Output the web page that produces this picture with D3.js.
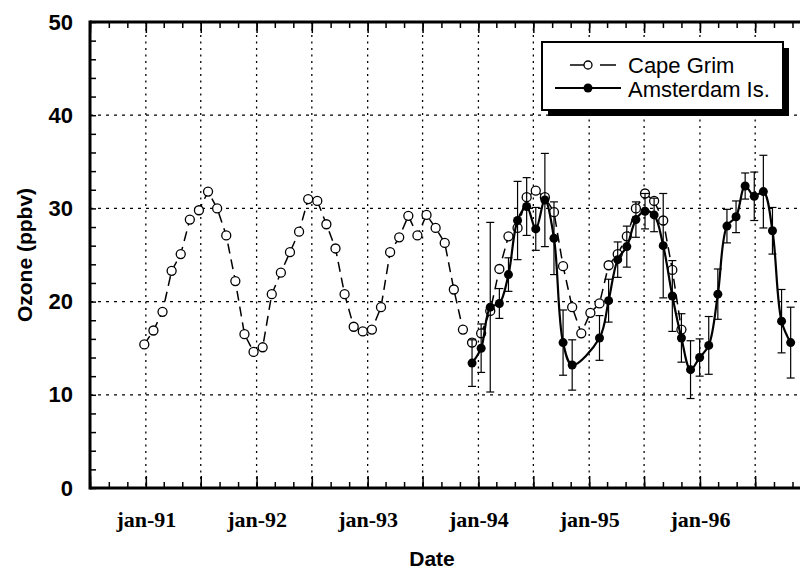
<!DOCTYPE html>
<html>
<head>
<meta charset="utf-8">
<script src="https://cdn.jsdelivr.net/npm/d3@7"></script>
<style>
  body { margin: 0; background: #fff; }
</style>
</head>
<body>
<script>
(function(){
    //samples are 30 days apart, starting end of dec-90
    var sampleStart = new Date(1990, 11, 27);
    var sampleStep = 30;

    //ozone at Cape Grim, samples 0 .. 59
    var capeGrim = [
        15.4, 16.9, 18.9, 23.3, 25.1, 28.8, 29.8, 31.8, 30.0, 27.1, 22.2, 16.5,
        14.6, 15.1, 20.8, 23.1, 25.3, 27.5, 31.0, 30.8, 28.3, 25.7, 20.8, 17.3,
        16.8, 17.0, 19.4, 25.3, 26.9, 29.2, 27.1, 29.3, 27.9, 26.3, 21.3, 17.0,
        15.6, 16.6, 19.0, 23.5, 27.0, 27.9, 31.2, 31.9, 31.2, 29.6, 23.8, 19.4,
        16.6, 18.8, 19.8, 23.9, 25.1, 27.0, 30.0, 31.6, 30.8, 28.7, 23.4, 17.0
    ];
    var capeOffset = 0;

    //ozone at Amsterdam Is., samples 36 .. 71 (null = no data)
    var amsterdam = [
        13.4, 15.0, 19.4, 19.8, 22.9, 28.7, 30.2, 27.8, 30.9, 26.8, 15.6, 13.2,
        null, null, 16.1, 20.1, 24.5, 25.9, 28.8, 29.7, 29.3, 26.0, 20.6, 16.1,
        12.7, 14.0, 15.3, 20.8, 28.1, 29.1, 32.4, 31.3, 31.8, 27.6, 17.9, 15.6
    ];
    var amsterdamErr = [
        2.5, 2.6, 9.1, 1.6, 1.8, 4.2, 3.1, 2.3, 5.0, 3.9, 3.5, 2.7,
        null, null, 2.4, 2.3, 1.9, 2.2, 1.9, 1.9, 1.8, 5.6, 3.8, 2.6,
        3.1, 2.0, 3.1, 2.7, 1.8, 1.7, 1.4, 2.6, 3.9, 2.5, 3.4, 3.8
    ];
    var amsterdamOffset = 36;

    //axis labels
    var yTicks = [0, 10, 20, 30, 40, 50];
    var yGrid = [10, 20, 30, 40];
    var xLabelYears = [1991, 1992, 1993, 1994, 1995, 1996];
    var xLabels = ["jan-91", "jan-92", "jan-93", "jan-94", "jan-95", "jan-96"];
    var legendNames = ["Cape Grim", "Amsterdam Is."];

    var width = 800, height = 570;
    var left = 90, right = 811, top = 22, bottom = 488;

    var svg = d3.select("body").append("svg")
        .attr("width", width)
        .attr("height", height)
        .style("display", "block");

    svg.append("rect")
        .attr("width", width)
        .attr("height", height)
        .attr("fill", "#fff");

    var x = d3.scaleTime()
        .domain([new Date(1990, 6, 1), new Date(1997, 0, 1)])
        .range([left, right]);

    var y = d3.scaleLinear()
        .domain([0, 50])
        .range([bottom, top]);

    function sampleDate(i){
        return d3.timeDay.offset(sampleStart, i * sampleStep);
    }

    var minorMonths = d3.timeMonth.every(2).range(new Date(1990, 6, 1), new Date(1997, 0, 2));
    var majorMonths = d3.timeMonth.every(6).range(new Date(1990, 6, 1), new Date(1997, 0, 2));
    var gridMonths = majorMonths.filter(function(d){ return d > x.domain()[0] && d < x.domain()[1]; });

    //dotted grid
    var grid = svg.append("g").attr("class", "grid")
        .attr("stroke", "#000")
        .attr("stroke-width", 1.3);

    grid.selectAll(".vgrid")
        .data(gridMonths)
        .enter()
        .append("line")
        .attr("x1", d => x(d)).attr("x2", d => x(d))
        .attr("y1", top).attr("y2", bottom)
        .attr("stroke-dasharray", "2,4.5");

    grid.selectAll(".hgrid")
        .data(yGrid)
        .enter()
        .append("line")
        .attr("x1", left).attr("x2", right)
        .attr("y1", d => y(d)).attr("y2", d => y(d))
        .attr("stroke-dasharray", "3,5");

    //ticks on bottom, top and left
    function styleAxis(g){
        g.select(".domain").remove();
        g.selectAll(".tick line").attr("stroke", "#000").attr("stroke-width", 1.5);
        g.selectAll(".tick text").remove();
    }

    svg.append("g")
        .attr("transform", "translate(0," + bottom + ")")
        .call(d3.axisBottom(x).tickValues(minorMonths).tickSize(-6))
        .call(styleAxis);
    svg.append("g")
        .attr("transform", "translate(0," + bottom + ")")
        .call(d3.axisBottom(x).tickValues(majorMonths).tickSize(-12))
        .call(styleAxis);
    svg.append("g")
        .attr("transform", "translate(0," + top + ")")
        .call(d3.axisTop(x).tickValues(minorMonths).tickSize(-6))
        .call(styleAxis);
    svg.append("g")
        .attr("transform", "translate(0," + top + ")")
        .call(d3.axisTop(x).tickValues(majorMonths).tickSize(-11))
        .call(styleAxis);
    svg.append("g")
        .attr("transform", "translate(" + left + ",0)")
        .call(d3.axisLeft(y).tickValues(d3.range(0, 51, 2)).tickSize(-6))
        .call(styleAxis);

    //tick labels
    var xLab = svg.append("g")
        .attr("transform", "translate(0," + bottom + ")")
        .call(d3.axisBottom(x)
            .tickValues(xLabelYears.map(yr => new Date(yr, 0, 1)))
            .tickSize(0)
            .tickPadding(23)
            .tickFormat((d, i) => xLabels[i]));
    xLab.select(".domain").remove();
    xLab.selectAll("text")
        .attr("fill", "#000")
        .style("font-family", "'Liberation Serif', 'Times New Roman', serif")
        .style("font-weight", "bold")
        .style("font-size", "22px");

    var yLab = svg.append("g")
        .attr("transform", "translate(" + left + ",0)")
        .call(d3.axisLeft(y).tickValues(yTicks).tickSize(0).tickPadding(17));
    yLab.select(".domain").remove();
    yLab.selectAll("text")
        .attr("fill", "#000")
        .style("font-family", "'Liberation Sans', Arial, sans-serif")
        .style("font-weight", "bold")
        .style("font-size", "22px");

    //frame
    var frame = svg.append("g").attr("stroke", "#000").attr("stroke-width", 3);
    frame.append("line").attr("x1", left).attr("x2", left).attr("y1", top - 1.5).attr("y2", bottom + 1.5);
    frame.append("line").attr("x1", left).attr("x2", right).attr("y1", top).attr("y2", top);
    frame.append("line").attr("x1", left).attr("x2", right).attr("y1", bottom).attr("y2", bottom);
    frame.append("line").attr("x1", right).attr("x2", right).attr("y1", top).attr("y2", bottom);

    //Cape Grim series
    var capeData = capeGrim.map(function(v, i){
        return { date: sampleDate(capeOffset + i), value: v };
    });

    var capeLine = d3.line()
        .x(d => x(d.date))
        .y(d => y(d.value));

    svg.append("path")
        .datum(capeData)
        .attr("fill", "none")
        .attr("stroke", "#000")
        .attr("stroke-width", 1.5)
        .attr("stroke-dasharray", "10,6")
        .attr("d", capeLine);

    svg.selectAll(".cape")
        .data(capeData)
        .enter()
        .append("circle")
        .attr("class", "cape")
        .attr("cx", d => x(d.date))
        .attr("cy", d => y(d.value))
        .attr("r", 4.5)
        .attr("fill", "#fff")
        .attr("stroke", "#000")
        .attr("stroke-width", 1.3);

    //Amsterdam Is. series
    var amsData = amsterdam.map(function(v, i){
        return { date: sampleDate(amsterdamOffset + i), value: v, err: amsterdamErr[i] };
    }).filter(d => d.value !== null);

    var bars = svg.append("g").attr("stroke", "#000").attr("stroke-width", 1.2);
    amsData.forEach(function(d){
        var cx = x(d.date);
        bars.append("line")
            .attr("x1", cx).attr("x2", cx)
            .attr("y1", y(d.value + d.err)).attr("y2", y(d.value - d.err));
        bars.append("line")
            .attr("x1", cx - 4).attr("x2", cx + 4)
            .attr("y1", y(d.value + d.err)).attr("y2", y(d.value + d.err));
        bars.append("line")
            .attr("x1", cx - 4).attr("x2", cx + 4)
            .attr("y1", y(d.value - d.err)).attr("y2", y(d.value - d.err));
    });

    var amsLine = d3.line()
        .x(d => x(d.date))
        .y(d => y(d.value))
        .curve(d3.curveCatmullRom);

    svg.append("path")
        .datum(amsData)
        .attr("fill", "none")
        .attr("stroke", "#000")
        .attr("stroke-width", 2.2)
        .attr("d", amsLine);

    svg.selectAll(".ams")
        .data(amsData)
        .enter()
        .append("circle")
        .attr("class", "ams")
        .attr("cx", d => x(d.date))
        .attr("cy", d => y(d.value))
        .attr("r", 4.5)
        .attr("fill", "#000");

    //axis titles
    svg.append("text")
        .attr("x", 432)
        .attr("y", 566)
        .attr("text-anchor", "middle")
        .style("font-family", "'Liberation Sans', Arial, sans-serif")
        .style("font-weight", "bold")
        .style("font-size", "21px")
        .text("Date");

    svg.append("text")
        .attr("transform", "translate(32,255) rotate(-90)")
        .attr("text-anchor", "middle")
        .style("font-family", "'Liberation Sans', Arial, sans-serif")
        .style("font-weight", "bold")
        .style("font-size", "21px")
        .text("Ozone (ppbv)");

    //legend with drop shadow
    var legend = svg.append("g").attr("class", "legend");
    legend.append("rect")
        .attr("x", 548).attr("y", 48)
        .attr("width", 241).attr("height", 68)
        .attr("fill", "#000");
    legend.append("rect")
        .attr("x", 542).attr("y", 42)
        .attr("width", 241).attr("height", 68)
        .attr("fill", "#fff")
        .attr("stroke", "#000")
        .attr("stroke-width", 2);

    //Cape Grim key
    legend.append("line")
        .attr("x1", 570).attr("x2", 584).attr("y1", 65).attr("y2", 65)
        .attr("stroke", "#000").attr("stroke-width", 1.5);
    legend.append("line")
        .attr("x1", 600).attr("x2", 616).attr("y1", 65).attr("y2", 65)
        .attr("stroke", "#000").attr("stroke-width", 1.5);
    legend.append("circle")
        .attr("cx", 588).attr("cy", 65).attr("r", 4)
        .attr("fill", "#fff").attr("stroke", "#000").attr("stroke-width", 1.3);

    //Amsterdam key
    legend.append("line")
        .attr("x1", 555).attr("x2", 621).attr("y1", 88).attr("y2", 88)
        .attr("stroke", "#000").attr("stroke-width", 1.8);
    legend.append("circle")
        .attr("cx", 588).attr("cy", 88).attr("r", 4.5)
        .attr("fill", "#000");

    legend.selectAll(".legtext")
        .data(legendNames)
        .enter()
        .append("text")
        .attr("x", 628)
        .attr("y", (d, i) => 73 + i * 23.5)
        .style("font-family", "'Liberation Sans', Arial, sans-serif")
        .style("font-size", "22px")
        .text(d => d);
})();
</script>
</body>
</html>
